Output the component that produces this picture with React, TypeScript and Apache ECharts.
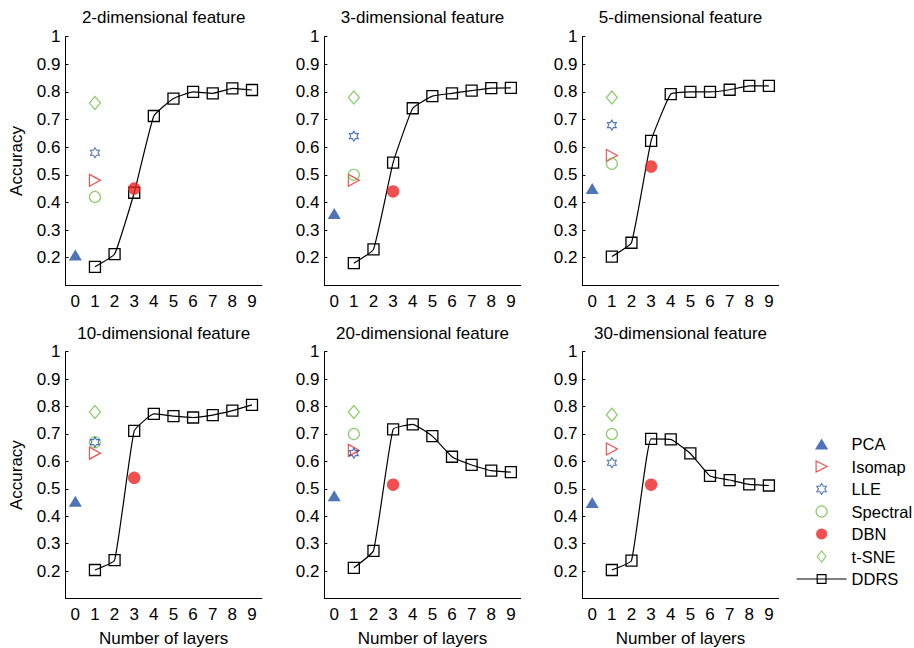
import React, { useEffect, useRef } from "react";
import * as echarts from "echarts";

const layerCategories = ["0", "1", "2", "3", "4", "5", "6", "7", "8", "9"];
const ddrsLayers = [1, 2, 3, 4, 5, 6, 7, 8, 9];
const panelTitles = [
  "2-dimensional feature",
  "3-dimensional feature",
  "5-dimensional feature",
  "10-dimensional feature",
  "20-dimensional feature",
  "30-dimensional feature",
];
const pcaValues = [0.21, 0.36, 0.45, 0.455, 0.475, 0.45];
const isomapValues = [0.48, 0.48, 0.57, 0.63, 0.64, 0.645];
const lleValues = [0.58, 0.64, 0.68, 0.67, 0.63, 0.595];
const spectralValues = [0.42, 0.5, 0.54, 0.67, 0.7, 0.7];
const dbnValues = [0.45, 0.44, 0.53, 0.54, 0.515, 0.515];
const tsneValues = [0.76, 0.78, 0.78, 0.78, 0.78, 0.77];
const ddrs2 = [0.167, 0.213, 0.435, 0.713, 0.776, 0.8, 0.795, 0.813, 0.807];
const ddrs3 = [0.18, 0.23, 0.544, 0.741, 0.785, 0.795, 0.805, 0.814, 0.815];
const ddrs5 = [0.204, 0.254, 0.623, 0.792, 0.8, 0.8, 0.808, 0.822, 0.822];
const ddrs10 = [0.204, 0.24, 0.711, 0.773, 0.765, 0.76, 0.769, 0.785, 0.806];
const ddrs20 = [0.212, 0.274, 0.717, 0.735, 0.692, 0.617, 0.587, 0.566, 0.561];
const ddrs30 = [0.204, 0.238, 0.682, 0.68, 0.629, 0.547, 0.532, 0.516, 0.512];
const ddrsValues = [ddrs2, ddrs3, ddrs5, ddrs10, ddrs20, ddrs30];
const legendNames = ["PCA", "Isomap", "LLE", "Spectral", "DBN", "t-SNE", "DDRS"];

const FONT = "'Liberation Sans', Arial, Helvetica, sans-serif";
const BLUE = "#2451a6";
const RED = "#ee2424";
const GREEN = "#6cbf45";
const CLEAR = "rgba(0,0,0,0)";
const UP_TRI = "path://M6,0L12,10L0,10Z";
const RIGHT_TRI = "path://M0,0L10,5L0,10Z";
const DIAMOND = "path://M5,0L10,6.5L5,13L0,6.5Z";
const HEXAGRAM =
  "path://M0,-10L2.887,-5L8.66,-5L5.77,0L8.66,5L2.887,5L0,10L-2.887,5L-8.66,5L-5.77,0L-8.66,-5L-2.887,-5Z";

const lefts = [65.5, 324.4, 582.4];
const plotW = 196.3;
const tops = [36.7, 351.7];
const heights = [248.6, 246.8];

export default function App() {
  const ref = useRef<HTMLDivElement>(null);
  useEffect(() => {
    document.body.style.margin = "0";
    if (!ref.current) return;
    const chart = echarts.init(ref.current, null, { renderer: "svg" });

    const grids: any[] = [];
    const xAxes: any[] = [];
    const yAxes: any[] = [];
    const titles: any[] = [];
    const series: any[] = [];

    for (let i = 0; i < 6; i++) {
      const row = Math.floor(i / 3);
      const col = i % 3;
      grids.push({ left: lefts[col], top: tops[row], width: plotW, height: heights[row], containLabel: false });
      titles.push({
        text: panelTitles[i],
        left: lefts[col] + plotW / 2,
        textAlign: "center",
        top: row === 0 ? 9 : 325,
        padding: 0,
        textStyle: { fontFamily: FONT, fontSize: 17, fontWeight: "normal", color: "#000" },
      });
      xAxes.push({
        gridIndex: i,
        type: "category",
        data: layerCategories,
        boundaryGap: true,
        name: row === 1 ? "Number of layers" : "",
        nameLocation: "middle",
        nameGap: 31,
        nameTextStyle: { fontFamily: FONT, fontSize: 17, color: "#000" },
        axisLine: { lineStyle: { color: "#000", width: 1 } },
        axisTick: { inside: true, length: 3, alignWithLabel: true, lineStyle: { color: "#000" } },
        axisLabel: { fontFamily: FONT, fontSize: 17, color: "#000", margin: 7.5, interval: 0 },
        splitLine: { show: false },
      });
      yAxes.push({
        gridIndex: i,
        type: "value",
        min: 0.1,
        max: 1,
        interval: 0.1,
        name: col === 0 ? "Accuracy" : "",
        nameLocation: "middle",
        nameGap: 40.5,
        nameTextStyle: { fontFamily: FONT, fontSize: 17, color: "#000" },
        axisLine: { show: true, lineStyle: { color: "#000", width: 1 } },
        axisTick: { show: true, inside: true, length: 3, lineStyle: { color: "#000" } },
        axisLabel: { fontFamily: FONT, fontSize: 17, color: "#000", margin: 5, showMinLabel: false },
        splitLine: { show: false },
      });

      series.push({
        name: "DDRS",
        type: "line",
        xAxisIndex: i,
        yAxisIndex: i,
        data: ddrsLayers.map((l, k) => [l, ddrsValues[i][k]]),
        smooth: 0.12,
        symbol: "rect",
        symbolSize: 11,
        lineStyle: { color: "#000", width: 1.2 },
        itemStyle: { color: CLEAR, borderColor: "#000", borderWidth: 1.3 },
        z: 2,
      });
      series.push({
        name: "PCA", type: "scatter", xAxisIndex: i, yAxisIndex: i,
        data: [[0, pcaValues[i]]], symbol: UP_TRI, symbolSize: [13, 11],
        itemStyle: { color: BLUE }, z: 3,
      });
      series.push({
        name: "Isomap", type: "scatter", xAxisIndex: i, yAxisIndex: i,
        data: [[1, isomapValues[i]]], symbol: RIGHT_TRI, symbolSize: [11, 12],
        itemStyle: { color: CLEAR, borderColor: RED, borderWidth: 1.2 }, z: 3,
      });
      series.push({
        name: "Spectral", type: "scatter", xAxisIndex: i, yAxisIndex: i,
        data: [[1, spectralValues[i]]], symbol: "circle", symbolSize: 11,
        itemStyle: { color: CLEAR, borderColor: GREEN, borderWidth: 1.2 }, z: 3,
      });
      series.push({
        name: "LLE", type: "scatter", xAxisIndex: i, yAxisIndex: i,
        data: [[1, lleValues[i]]], symbol: HEXAGRAM, symbolSize: [9, 10],
        itemStyle: { color: CLEAR, borderColor: BLUE, borderWidth: 1.1 }, z: 4,
      });
      series.push({
        name: "t-SNE", type: "scatter", xAxisIndex: i, yAxisIndex: i,
        data: [[1, tsneValues[i]]], symbol: DIAMOND, symbolSize: [11, 13],
        itemStyle: { color: CLEAR, borderColor: GREEN, borderWidth: 1.2 }, z: 3,
      });
      series.push({
        name: "DBN", type: "scatter", xAxisIndex: i, yAxisIndex: i,
        data: [[3, dbnValues[i]]], symbol: "circle", symbolSize: 12.5,
        itemStyle: { color: RED }, z: 5,
      });
    }

    const legendStyles: Record<string, any> = {
      PCA: { icon: UP_TRI, itemStyle: { color: BLUE, borderWidth: 0 } },
      Isomap: { icon: RIGHT_TRI, itemStyle: { color: CLEAR, borderColor: RED, borderWidth: 1.2 } },
      LLE: { icon: HEXAGRAM, itemStyle: { color: CLEAR, borderColor: BLUE, borderWidth: 1.1 } },
      Spectral: { icon: "circle", itemStyle: { color: CLEAR, borderColor: GREEN, borderWidth: 1.2 } },
      DBN: { icon: "circle", itemStyle: { color: RED, borderWidth: 0 } },
      "t-SNE": { icon: DIAMOND, itemStyle: { color: CLEAR, borderColor: GREEN, borderWidth: 1.2 } },
      DDRS: {
        itemStyle: { color: CLEAR, borderColor: "#000", borderWidth: 1.2 },
        lineStyle: { color: "#000", width: 1.2 },
      },
    };

    chart.setOption({
      animation: false,
      backgroundColor: "#fff",
      title: titles,
      grid: grids,
      xAxis: xAxes,
      yAxis: yAxes,
      legend: {
        orient: "vertical",
        left: 796,
        top: 435.5,
        itemWidth: 50,
        itemHeight: 11,
        itemGap: 5.5,
        selectedMode: false,
        symbolKeepAspect: true,
        padding: 0,
        textStyle: { fontFamily: FONT, fontSize: 16.5, color: "#000", lineHeight: 17 },
        data: legendNames.map((n) => ({ name: n, ...legendStyles[n] })),
      },
      series,
    });
    return () => chart.dispose();
  }, []);
  return <div ref={ref} style={{ width: 914, height: 648 }} />;
}
